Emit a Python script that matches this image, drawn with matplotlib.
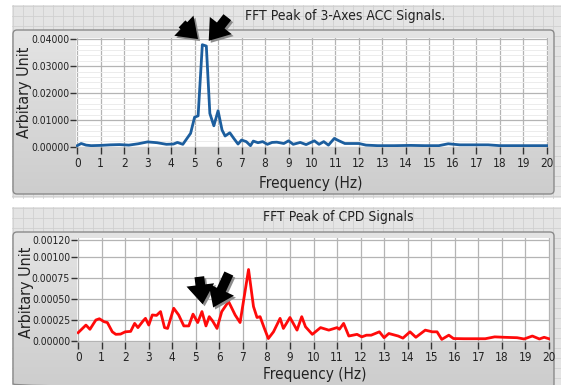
import numpy as np
import matplotlib.pyplot as plt
from matplotlib.colors import LinearSegmentedColormap
from matplotlib.patches import FancyBboxPatch, Rectangle, FancyArrowPatch
from matplotlib.ticker import MultipleLocator, FixedLocator

# --- data ---
acc_freq = [0.0, 0.17, 0.38, 0.6, 1.0, 1.4, 1.8, 2.2, 2.6, 3.0, 3.4, 3.8, 4.1, 4.27, 4.5,
            4.83, 5.0, 5.15, 5.33, 5.5, 5.65, 5.82, 6.0, 6.17, 6.3, 6.5, 6.67, 6.85, 7.0,
            7.2, 7.38, 7.5, 7.7, 7.9, 8.1, 8.3, 8.5, 8.8, 9.0, 9.2, 9.5, 9.75, 10.1, 10.3,
            10.5, 10.7, 10.95, 11.15, 11.4, 12.0, 12.3, 12.8, 13.5, 14.2, 14.8, 15.4, 15.8,
            16.3, 17.0, 17.5, 18.0, 19.0, 20.0]
acc_amp = [0.4, 1.2, 0.6, 0.4, 0.5, 0.7, 0.8, 0.6, 1.1, 1.8, 1.5, 0.9, 1.0, 1.6, 0.9,
           5.0, 11.0, 11.5, 38.0, 37.5, 12.4, 7.8, 13.4, 6.2, 4.0, 5.2, 3.1, 1.0, 2.5,
           1.9, 0.4, 2.1, 1.5, 1.9, 0.9, 1.6, 1.7, 1.2, 2.2, 0.9, 1.6, 0.8, 2.2, 0.9,
           1.9, 0.6, 3.1, 2.2, 1.2, 1.2, 0.6, 0.4, 0.4, 0.5, 0.4, 0.4, 1.1,
           0.7, 0.7, 0.7, 0.4, 0.4, 0.4]  # x 1e-3

cpd_freq = [0.0, 0.33, 0.5, 0.75, 0.9, 1.1, 1.24, 1.45, 1.6, 1.8, 2.0, 2.23, 2.4, 2.54,
            2.76, 2.86, 3.0, 3.15, 3.33, 3.5, 3.67, 3.8, 4.06, 4.27, 4.49, 4.7, 4.88, 5.08,
            5.26, 5.43, 5.57, 5.71, 5.9, 6.1, 6.39, 6.67, 6.88, 7.24, 7.45, 7.6, 7.73, 7.9,
            8.08, 8.3, 8.58, 8.72, 9.0, 9.3, 9.5, 9.66, 9.95, 10.3, 10.65, 11.0, 11.1,
            11.28, 11.5, 11.85, 12.05, 12.25, 12.45, 12.8, 13.0, 13.2, 13.6, 13.8, 14.1,
            14.35, 14.75, 15.05, 15.25, 15.45, 15.75, 15.95, 16.4, 17.0, 17.3, 17.7, 18.1,
            18.65, 18.95, 19.3, 19.6, 19.8, 20.0]
cpd_amp = [1.0, 1.9, 1.4, 2.5, 2.65, 2.3, 2.2, 1.1, 0.8, 0.83, 1.1, 1.15, 2.1, 1.6,
           2.4, 2.7, 1.9, 3.1, 3.05, 3.5, 1.6, 1.5, 3.9, 3.1, 1.8, 1.8, 3.2, 2.2,
           3.5, 1.8, 2.9, 2.4, 1.5, 3.5, 4.7, 3.1, 2.2, 8.5, 4.1, 2.8, 2.9, 1.6,
           0.3, 1.1, 2.7, 1.5, 2.8, 1.3, 2.9, 1.7, 0.8, 1.6, 1.3, 1.6, 1.4,
           2.1, 0.6, 0.8, 0.5, 0.7, 0.7, 1.1, 0.4, 0.9, 0.6, 0.35, 1.1,
           0.45, 1.3, 1.1, 1.1, 0.2, 0.7, 0.3, 0.28, 0.28, 0.28, 0.5, 0.45,
           0.4, 0.25, 0.6, 0.25, 0.45, 0.28]  # x 1e-4

acc_yticks = [0.0, 0.01, 0.02, 0.03, 0.04]
cpd_yticks = [0.0, 0.00025, 0.0005, 0.00075, 0.001, 0.0012]
x_ticks = list(range(0, 21))

W, H = 561, 385
FONT = ['DejaVu Sans']
STRETCH = 'condensed'
TXT = '#222222'

fig = plt.figure(figsize=(W / 100, H / 100), dpi=100)
fig.patch.set_facecolor('white')

# background drawn in pixel coordinates
bg = fig.add_axes([0, 0, 1, 1], zorder=-10)
bg.axis('off')
grad_cmap = LinearSegmentedColormap.from_list('g', ['#e4e4e4', '#cdcdcd'])


def panel(y0, y1, fy0, fy1):
    # light gray grid backdrop
    bg.add_patch(Rectangle((12, y0), W - 12, y1 - y0, fc='#e4e4e4', ec='none'))
    for gx in np.arange(13, W, 10):
        bg.plot([gx, gx], [y0, y1], color='#d0d0d0', lw=0.6)
    for gy in np.arange(y0 + 1, y1, 10):
        bg.plot([12, W], [gy, gy], color='#d0d0d0', lw=0.6)
    # rounded chart frame with vertical gradient
    frame = FancyBboxPatch((13, fy0), 541, fy1 - fy0, boxstyle='round,pad=0,rounding_size=4',
                           fc='none', ec='#8a8a8a', lw=1.0, zorder=3)
    bg.add_patch(frame)
    grad = np.linspace(0, 1, 100).reshape(-1, 1)
    im = bg.imshow(grad, cmap=grad_cmap, extent=(13, 554, fy1, fy0), aspect='auto', zorder=2)
    im.set_clip_path(frame)


panel(5, 198, 30, 194)
panel(207, H, 232, H + 3)
bg.set_xlim(0, W)
bg.set_ylim(H, 0)


def ftext(x, y, s, **kw):
    fig.text(x / W, 1 - y / H, s, ha='center', va='center', family=FONT,
             fontstretch=STRETCH, color=TXT, **kw)


ftext(345, 16, 'FFT Peak of 3-Axes ACC Signals.', fontsize=10)
ftext(338, 217, 'FFT Peak of CPD Signals', fontsize=10)
ftext(311, 184, 'Frequency (Hz)', fontsize=11)
ftext(315, 375, 'Frequency (Hz)', fontsize=11)
ftext(25, 92, 'Arbitary Unit', fontsize=11.5, rotation=90)
ftext(27, 292, 'Arbitary Unit', fontsize=11.5, rotation=90)


def style_axes(ax, yticks, fmt):
    ax.set_facecolor('white')
    for s in ax.spines.values():
        s.set_visible(False)
    ax.set_xlim(-0.05, 20.05)
    ax.xaxis.set_major_locator(FixedLocator(x_ticks))
    ax.yaxis.set_major_locator(FixedLocator(yticks))
    ax.set_yticklabels([fmt % v for v in yticks], family=FONT, fontstretch=STRETCH,
                       fontsize=7.5, color=TXT)
    ax.set_xticklabels([str(v) for v in x_ticks], family=FONT, fontstretch=STRETCH,
                       fontsize=8.5, color=TXT)
    ax.tick_params(axis='x', direction='out', length=5, width=1, color='#333333', pad=2)
    ax.tick_params(axis='y', direction='out', length=4, width=1, color='#333333', pad=1)
    ax.grid(True, which='major', color='#b4b4b4', lw=0.9)
    ax.set_axisbelow(True)


# top chart
ax1 = fig.add_axes([76 / W, 1 - 147 / H, (548 - 76) / W, (147 - 38) / H])
ax1.yaxis.set_minor_locator(MultipleLocator(0.002))
ax1.grid(True, which='minor', axis='y', color='#ececec', lw=0.7)
ax1.tick_params(axis='y', which='minor', length=0)
style_axes(ax1, acc_yticks, '%.5f')
ax1.set_ylim(-0.0001, 0.0405)
ax1.plot(acc_freq, np.array(acc_amp) * 1e-3, color='#1c5e9e', lw=2.0, zorder=3)

# bottom chart
ax2 = fig.add_axes([77 / W, 1 - 341.5 / H, (550 - 77) / W, (341.5 - 238) / H])
style_axes(ax2, cpd_yticks, '%.5f')
ax2.set_ylim(-0.000005, 0.001224)
ax2.plot(cpd_freq, np.array(cpd_amp) * 1e-4, color='#ff0a0a', lw=2.0, zorder=3)

# hand-drawn style arrows (pixel coordinates)
arrows = [((180, 22), (200, 41)), ((229, 15), (207, 43)),
          ((199, 274), (203, 307)), ((230, 271), (212, 310))]
for (x0, y0), (x1, y1) in arrows:
    for dx, dy, col in [(2, 2, '#8c8c8c'), (0, 0, 'black')]:
        a = FancyArrowPatch((x0 + dx, y0 + dy), (x1 + dx, y1 + dy),
                            arrowstyle='simple,head_length=14,head_width=20,tail_width=7',
                            color=col, lw=0, zorder=20, mutation_scale=1)
        a.set_transform(bg.transData)
        fig.add_artist(a)

fig.savefig('out.png', dpi=100)
